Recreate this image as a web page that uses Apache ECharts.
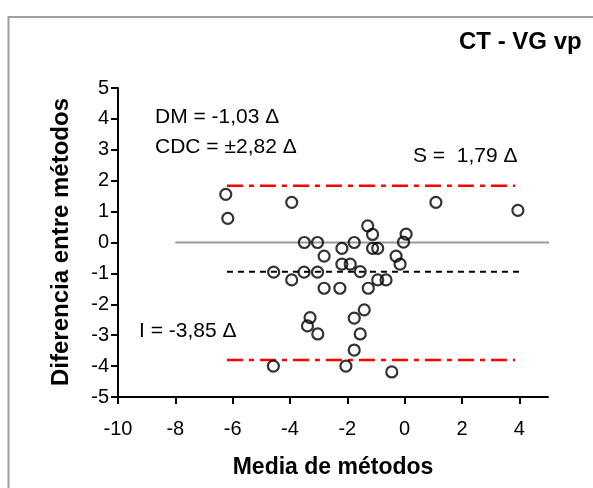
<!DOCTYPE html>
<html>
<head>
<meta charset="utf-8">
<script src="https://cdn.jsdelivr.net/npm/echarts@6/dist/echarts.min.js"></script>
<style>
html,body{margin:0;padding:0;background:#fff;}
#chart{width:593px;height:488px;}
</style>
</head>
<body>
<div id="chart"></div>
<script>
// ---- data ----
const titleText = "CT - VG vp";
const xAxisTitle = "Media de métodos";
const yAxisTitle = "Diferencia entre métodos";

const xTicks = [-10, -8, -6, -4, -2, 0, 2, 4];
const yTicks = [-5, -4, -3, -2, -1, 0, 1, 2, 3, 4, 5];

const xVals = [-6.24, -6.17, -3.94, -3.50, -3.04, -2.81, -4.57, -3.51, -3.04, -3.94,
               -2.81, -2.26, -2.19, -2.19, -1.90, -1.76, -1.55, -1.29, -1.12, -1.12,
               -0.94, -1.27, -0.94, -0.65, -0.30, -0.16, 0.05, -0.04, -3.30, -3.39,
               -3.03, -1.76, -1.41, -1.55, -1.76, -4.58, -2.05, -0.45, 1.09, 3.95];
const yVals = [1.56, 0.78, 1.30, 0.00, 0.00, -0.44, -0.96, -0.96, -0.96, -1.21,
               -1.48, -1.48, -0.19, -0.70, -0.70, 0.00, -0.94, 0.54, 0.26, -0.19,
               -0.19, -1.48, -1.21, -1.21, -0.44, -0.70, 0.27, 0.01, -2.43, -2.70,
               -2.96, -2.45, -2.18, -2.96, -3.48, -4.00, -4.00, -4.19, 1.30, 1.04];

const zeroLineX = [-8, 5.25];
const zeroLineY = [0, 0];
const meanLineX = [-6.2, 4.05];
const meanLineY = [-0.95, -0.95];
const upperLineX = [-6.2, 3.85];
const upperLineY = [1.84, 1.84];
const lowerLineX = [-6.2, 3.85];
const lowerLineY = [-3.80, -3.80];

const annotations = ["DM = -1,03 \u0394", "CDC = \u00b12,82 \u0394", "S =  1,79 \u0394", "I = -3,85 \u0394"];

// ---- build ----
const pts = xVals.map((x, i) => [x, yVals[i]]);
const pairs = (xs, ys) => xs.map((x, i) => [x, ys[i]]);
const FONT = "'Liberation Sans', Arial, sans-serif";

const chart = echarts.init(document.getElementById('chart'), null, {renderer: 'canvas'});
const lineSeries = (data, color, width, type, clip) => ({
  type: 'line', data: data, showSymbol: false, symbol: 'none', silent: true,
  clip: clip, z: 1,
  lineStyle: {color: color, width: width, type: type}
});

chart.setOption({
  animation: false,
  backgroundColor: '#ffffff',
  grid: {left: 118, top: 88, width: 430, height: 309, containLabel: false},
  xAxis: {
    type: 'value', min: -10, max: 5, interval: 1,
    splitLine: {show: false},
    axisLine: {show: true, onZero: false, lineStyle: {color: '#000', width: 2}},
    axisTick: {show: true, length: 7, inside: false, customValues: xTicks, lineStyle: {color: '#000', width: 2}},
    axisLabel: {customValues: xTicks, margin: 22, color: '#000', fontSize: 20, fontFamily: FONT}
  },
  yAxis: {
    type: 'value', min: -5, max: 5, interval: 1,
    splitLine: {show: false},
    axisLine: {show: true, onZero: false, lineStyle: {color: '#000', width: 2}},
    axisTick: {show: true, length: 7, customValues: yTicks, lineStyle: {color: '#000', width: 2}},
    axisLabel: {customValues: yTicks, margin: 9, color: '#000', fontSize: 20, fontFamily: FONT}
  },
  series: [
    lineSeries(pairs(zeroLineX, zeroLineY), '#999999', 2, 'solid', false),
    lineSeries(pairs(meanLineX, meanLineY), '#000000', 2, [6, 5], true),
    lineSeries(pairs(upperLineX, upperLineY), '#ff0000', 2.5, [16, 6, 5, 6], true),
    lineSeries(pairs(lowerLineX, lowerLineY), '#ff0000', 2.5, [16, 6, 5, 6], true),
    {
      type: 'scatter', data: pts, symbol: 'circle', symbolSize: 11, z: 5,
      itemStyle: {color: 'rgba(0,0,0,0)', borderColor: '#000', borderWidth: 2.2}
    }
  ],
  graphic: [
    {type: 'rect', shape: {x: 8.5, y: 17, width: 800, height: 700}, silent: true,
     style: {fill: 'none', stroke: '#a0a0a0', lineWidth: 2}, z: 0},
    {type: 'text', left: 459, top: 30, silent: true,
     style: {text: titleText, fill: '#000', font: "bold 24px " + FONT}},
    {type: 'text', x: 333, y: 468, silent: true,
     style: {text: xAxisTitle, fill: '#000', font: "bold 23px " + FONT, align: 'center', verticalAlign: 'middle'}},
    {type: 'text', x: 61, y: 242, rotation: Math.PI / 2, silent: true,
     style: {text: yAxisTitle, fill: '#000', font: "bold 24px " + FONT, align: 'center', verticalAlign: 'middle'}},
    {type: 'text', x: 155, y: 117, silent: true,
     style: {text: annotations[0], fill: '#000', font: "21px " + FONT, verticalAlign: 'middle'}},
    {type: 'text', x: 155, y: 147, silent: true,
     style: {text: annotations[1], fill: '#000', font: "21px " + FONT, verticalAlign: 'middle'}},
    {type: 'text', x: 413, y: 156, silent: true,
     style: {text: annotations[2], fill: '#000', font: "21px " + FONT, verticalAlign: 'middle'}},
    {type: 'text', x: 139, y: 331, silent: true,
     style: {text: annotations[3], fill: '#000', font: "21px " + FONT, verticalAlign: 'middle'}}
  ]
});
</script>
</body>
</html>
